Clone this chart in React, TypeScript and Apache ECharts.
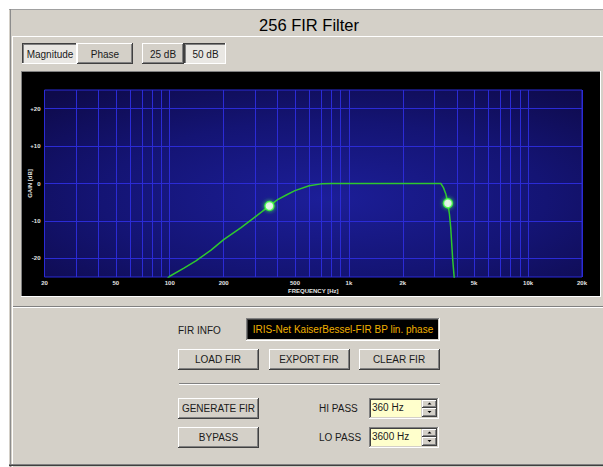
import React, { useEffect, useRef } from "react";
import * as echarts from "echarts";

// ---- data ----
const freqHz = [90, 100, 120, 140, 170, 200, 250, 300, 360, 400, 450, 500, 600, 700, 800, 1000, 2000, 3000, 3260, 3370, 3480, 3570, 3640, 3700, 3750, 3800, 3860, 3900];
const gainDb = [-27, -24.8, -22.6, -20.7, -17.8, -15.0, -11.8, -8.9, -6.0, -4.3, -3.0, -1.9, -0.6, -0.1, 0, 0, 0, 0, 0, -1.1, -2.9, -5.3, -8.2, -11.7, -16.2, -20.6, -24.5, -27];
const markerFreq = [360, 3570];
const markerGain = [-6.0, -5.3];
const gridFreqs = [30, 40, 50, 60, 70, 80, 90, 100, 200, 300, 400, 500, 600, 700, 800, 900, 1000, 2000, 3000, 4000, 5000, 6000, 7000, 8000, 9000, 10000];
const labelFreqs = [20, 50, 100, 200, 500, 1000, 2000, 5000, 10000, 20000];
const labelTexts = ["20", "50", "100", "200", "500", "1k", "2k", "5k", "10k", "20k"];
const gainLines = [-20, -10, 0, 10, 20];
const xMin = 20;
const xMax = 20000;
const yMin = -25;
const yMax = 25;
const yStep = 5;

const titleText = "256 FIR Filter";
const tabLabels = ["Magnitude", "Phase", "25 dB", "50 dB"];
const firInfoLabel = "FIR INFO";
const firInfoText = "IRIS-Net KaiserBessel-FIR BP lin. phase";
const fileButtons = ["LOAD FIR", "EXPORT FIR", "CLEAR FIR"];
const actionButtons = ["GENERATE FIR", "BYPASS"];
const passLabels = ["HI PASS", "LO PASS"];
const passValues = ["360 Hz", "3600 Hz"];

const FONT = "'Liberation Sans', Arial, sans-serif";
const GRID_BLUE = "#2b2bd6";
const FACE = "#d4d0c8";
const UI_SIZE = 10;

const hl = (x1: number, x2: number, y: number, c: string) => ({
  type: "line", z: -5, silent: true,
  shape: { x1, y1: y + 0.5, x2, y2: y + 0.5 },
  style: { stroke: c, lineWidth: 1 },
});
const vl = (x: number, y1: number, y2: number, c: string) => ({
  type: "line", z: -5, silent: true,
  shape: { x1: x + 0.5, y1, x2: x + 0.5, y2 },
  style: { stroke: c, lineWidth: 1 },
});
const rect = (x: number, y: number, w: number, h: number, fill: string) => ({
  type: "rect", z: -5, silent: true, shape: { x, y, width: w, height: h }, style: { fill },
});
const txt = (x: number, y: number, text: string, opts: any = {}) => ({
  type: "text", z: -5, silent: true, x, y,
  style: {
    text, fill: opts.fill || "#1a1a1a", fontSize: opts.size || UI_SIZE, fontFamily: FONT,
    fontWeight: opts.weight || "normal", align: opts.align || "center", verticalAlign: "middle",
  },
});
const raised = (x: number, y: number, w: number, h: number) => [
  rect(x, y, w, h, FACE),
  hl(x, x + w - 1, y, "#ffffff"),
  vl(x, y, y + h - 1, "#ffffff"),
  hl(x, x + w, y + h - 1, "#404040"),
  vl(x + w - 1, y, y + h, "#404040"),
  hl(x + 1, x + w - 1, y + h - 2, "#808080"),
  vl(x + w - 2, y + 1, y + h - 1, "#808080"),
];
const pressed = (x: number, y: number, w: number, h: number) => [
  rect(x, y, w, h, "#e9e7e3"),
  hl(x, x + w, y, "#404040"),
  vl(x, y, y + h, "#404040"),
  hl(x + 1, x + w - 1, y + 1, "#808080"),
  vl(x + 1, y + 1, y + h - 1, "#808080"),
  hl(x, x + w, y + h - 1, "#ffffff"),
  vl(x + w - 1, y, y + h, "#ffffff"),
];
const sunkenBox = (x: number, y: number, w: number, h: number, fill: string) => [
  rect(x, y, w, h, fill),
  hl(x, x + w, y, "#808080"),
  vl(x, y, y + h, "#808080"),
  hl(x + 1, x + w - 1, y + 1, "#404040"),
  vl(x + 1, y + 1, y + h - 1, "#404040"),
  hl(x, x + w, y + h - 1, "#ffffff"),
  vl(x + w - 1, y, y + h, "#ffffff"),
  hl(x + 1, x + w - 1, y + h - 2, FACE),
  vl(x + w - 2, y + 1, y + h - 1, FACE),
];
const tri = (cx: number, cy: number, up: boolean) => ({
  type: "polygon", z: -5, silent: true,
  shape: { points: up ? [[cx - 2, cy + 1], [cx + 2, cy + 1], [cx, cy - 1]] : [[cx - 2, cy - 1], [cx + 2, cy - 1], [cx, cy + 1]] },
  style: { fill: "#000000" },
});

function buildGraphic() {
  const els: any[] = [];
  // window
  els.push(rect(9, 9, 600, 458, FACE));
  els.push(hl(9, 603, 9, "#a0a0a0"));
  els.push(vl(10, 9, 467, "#8c8c8c"));
  els.push(vl(12, 36, 467, "#ffffff"));
  els.push(txt(309, 24.5, titleText, { size: 16.5, fill: "#000000" }));
  els.push(hl(13, 603, 36, "#ffffff"));
  // tabs
  const tabs = [[22, 55, true], [77, 56, false], [142, 42, false], [184, 42, true]] as any[];
  tabs.forEach((t, i) => {
    const [x, w, down] = t;
    els.push(...(down ? pressed(x, 43, w, 21) : raised(x, 43, w, 21)));
    els.push(txt(x + w / 2 + (down ? 0.5 : 0), 54, tabLabels[i]));
  });
  // chart frame
  els.push(hl(21, 601, 71, "#808080"));
  els.push(vl(21, 71, 297, "#808080"));
  els.push(hl(21, 601, 296, "#ffffff"));
  els.push(vl(600, 71, 297, "#ffffff"));
  els.push(rect(22, 72, 578, 224, "#000000"));
  // separator
  els.push(hl(13, 603, 306, "#808080"));
  els.push(hl(13, 603, 307, "#ffffff"));
  // FIR info
  els.push(txt(178, 330, firInfoLabel, { align: "left" }));
  els.push(...sunkenBox(246, 318, 194, 23, "#000000"));
  els.push(txt(343, 329.5, firInfoText, { fill: "#f0b000" }));
  // file buttons
  [178, 269, 359].forEach((x, i) => {
    els.push(...raised(x, 349, 81, 21));
    els.push(txt(x + 40, 359.5, fileButtons[i]));
  });
  els.push(hl(179, 440, 383, "#808080"));
  els.push(hl(179, 440, 384, "#ffffff"));
  // action buttons and pass inputs
  [398, 427].forEach((y, i) => {
    els.push(...raised(178, y, 81, 21));
    els.push(txt(218.5, y + 10.5, actionButtons[i]));
    els.push(txt(319, y + 10.5, passLabels[i], { align: "left" }));
    els.push(...sunkenBox(369, y, 70, 21, "#ffffcc"));
    els.push(txt(372, y + 9, passValues[i], { align: "left" }));
    els.push(rect(421, y + 2, 16, 17, FACE));
    els.push(...raised(422, y + 2, 15, 8));
    els.push(...raised(422, y + 10, 15, 9));
    els.push(tri(429.5, y + 5.5, true));
    els.push(tri(429.5, y + 14, false));
  });
  // bottom border
  els.push(hl(9, 603, 464, "#808080"));
  els.push(hl(9, 603, 465, "#404040"));
  return els;
}

export default function App() {
  const ref = useRef<HTMLDivElement>(null);
  useEffect(() => {
    if (!ref.current) return;
    const chart = echarts.init(ref.current, null, { renderer: "svg" });
    const allV = Array.from(new Set([...gridFreqs, ...labelFreqs])).sort((a, b) => a - b);
    const vLines = allV.map((f) => {
      const i = labelFreqs.indexOf(f);
      return {
        xAxis: f,
        label: i >= 0
          ? { show: true, position: "start", formatter: labelTexts[i], color: "#e4e4e4", fontSize: 6, fontWeight: "bold", fontFamily: FONT, distance: 3 }
          : { show: false },
      };
    });
    const hLines = gainLines.map((g) => ({ yAxis: g, label: { show: false } }));
    chart.setOption({
      animation: false,
      backgroundColor: "#ffffff",
      graphic: buildGraphic(),
      grid: {
        left: 44.5, top: 90, width: 537.5, height: 187, show: true,
        borderColor: GRID_BLUE, borderWidth: 1,
        backgroundColor: {
          type: "radial", x: 0.52, y: 0.58, r: 0.75,
          colorStops: [
            { offset: 0, color: "#1c1e98" },
            { offset: 0.55, color: "#141474" },
            { offset: 1, color: "#0e0a4a" },
          ],
        },
      },
      xAxis: {
        type: "log", logBase: 10, min: xMin, max: xMax,
        axisLine: { show: false }, axisTick: { show: false }, splitLine: { show: false },
        axisLabel: { show: false },
        name: "FREQUENCY [Hz]", nameLocation: "middle", nameGap: 11, nameMoveOverlap: false,
        nameTextStyle: { color: "#e4e4e4", fontSize: 6, fontWeight: "bold", fontFamily: FONT },
      },
      yAxis: {
        type: "value", min: yMin, max: yMax, interval: yStep,
        axisLine: { show: false }, axisTick: { show: false }, splitLine: { show: false },
        axisLabel: {
          margin: 4, color: "#e4e4e4", fontSize: 6, fontWeight: "bold", fontFamily: FONT,
          formatter: (v: number) => (v % 10 === 0 ? (v > 0 ? "+" + v : String(v)) : ""),
        },
        name: "GAIN [dB]", nameLocation: "middle", nameGap: 12, nameRotate: 90, nameMoveOverlap: false,
        nameTextStyle: { color: "#e4e4e4", fontSize: 6, fontWeight: "bold", fontFamily: FONT },
      },
      series: [
        {
          type: "line",
          data: freqHz.map((f, i) => [f, gainDb[i]]),
          showSymbol: false,
          clip: true,
          lineStyle: { color: "#2ec82e", width: 1.5 },
          z: 3,
          markLine: {
            silent: true, symbol: ["none", "none"], animation: false,
            lineStyle: { color: GRID_BLUE, width: 1, type: "solid" },
            emphasis: { disabled: true },
            data: [...vLines, ...hLines],
            z: 1,
          },
        },
        {
          type: "scatter",
          data: markerFreq.map((f, i) => [f, markerGain[i]]),
          symbol: "circle",
          symbolSize: 9,
          itemStyle: { color: "#ffffff", borderColor: "#3cff3c", borderWidth: 1.5, shadowBlur: 4, shadowColor: "#3cff3c" },
          z: 4,
        },
      ],
    });
    return () => chart.dispose();
  }, []);
  return (
    <div
      ref={ref}
      style={{ position: "absolute", left: 0, top: 0, width: 603, height: 467, background: "#ffffff" }}
    />
  );
}
